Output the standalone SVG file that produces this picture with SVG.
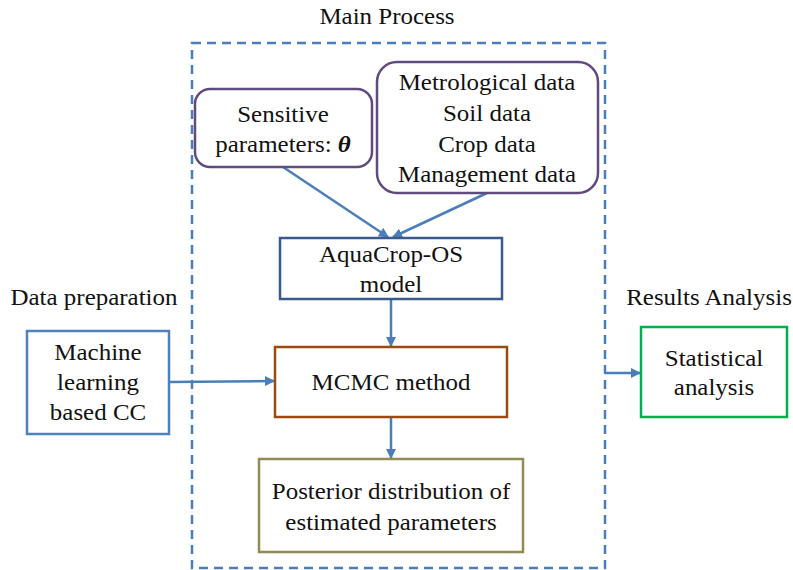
<svg xmlns="http://www.w3.org/2000/svg" width="793" height="570" viewBox="0 0 793 570">
<defs>
<marker id="ah" viewBox="0 0 10 10" refX="9" refY="5" markerWidth="4" markerHeight="4" orient="auto" markerUnits="strokeWidth">
<path d="M0,0 L10,5 L0,10 z" fill="#4a7ebb"/>
</marker>
</defs>
<style>
text{font-family:"Liberation Serif","Times New Roman",serif;font-size:22.5px;fill:#111;text-anchor:middle}
.box{fill:#fff;stroke-width:2.5}
.conn{stroke:#4a7ebb;stroke-width:2.5;fill:none;marker-end:url(#ah)}
</style>
<rect width="793" height="570" fill="#fff"/>
<g id="main-process">
<rect x="192" y="43" width="413" height="525" fill="none" stroke="#4a7ebb" stroke-width="2.5" stroke-dasharray="9,6"/>
<text transform="translate(387,24) scale(1.11,1)">Main Process</text>
</g>
<text transform="translate(94,305) scale(1.11,1)">Data preparation</text>
<text transform="translate(709,305) scale(1.11,1)">Results Analysis</text>
<g id="connectors">
<line class="conn" x1="283" y1="167" x2="388" y2="237"/>
<line class="conn" x1="487" y1="193" x2="393" y2="237"/>
<line class="conn" x1="391" y1="299" x2="391" y2="346"/>
<line class="conn" x1="391" y1="417" x2="391" y2="458"/>
<line class="conn" x1="169" y1="382" x2="274" y2="381"/>
<line class="conn" x1="605" y1="373" x2="640" y2="373"/>
</g>
<g id="sensitive">
<rect class="box" x="195" y="89" width="177" height="78" rx="15" stroke="#5f4b7f"/>
<text transform="translate(283,122) scale(1.11,1)">Sensitive</text>
<text transform="translate(283,152) scale(1.11,1)">parameters: <tspan font-weight="bold" font-style="italic">θ</tspan></text>
</g>
<g id="data">
<rect class="box" x="377" y="62" width="221" height="131" rx="20" stroke="#5f4b7f"/>
<text transform="translate(487,90) scale(1.11,1)">Metrological data</text>
<text transform="translate(487,121) scale(1.11,1)">Soil data</text>
<text transform="translate(487,152) scale(1.11,1)">Crop data</text>
<text transform="translate(487,182) scale(1.11,1)">Management data</text>
</g>
<g id="aquacrop">
<rect class="box" x="280" y="238" width="222" height="61" stroke="#3a5a8c"/>
<text transform="translate(391,262) scale(1.11,1)">AquaCrop-OS</text>
<text transform="translate(391,292) scale(1.11,1)">model</text>
</g>
<g id="mcmc">
<rect class="box" x="275" y="347" width="232" height="70" stroke="#9c4a10"/>
<text transform="translate(391,390) scale(1.11,1)">MCMC method</text>
</g>
<g id="posterior">
<rect class="box" x="259" y="459" width="264" height="93" stroke="#948a54"/>
<text transform="translate(391,499) scale(1.11,1)">Posterior distribution of</text>
<text transform="translate(391,530) scale(1.11,1)">estimated parameters</text>
</g>
<g id="ml">
<rect class="box" x="27" y="331" width="142" height="103" stroke="#4f81bd"/>
<text transform="translate(98,360) scale(1.11,1)">Machine</text>
<text transform="translate(98,390) scale(1.11,1)">learning</text>
<text transform="translate(98,420) scale(1.11,1)">based CC</text>
</g>
<g id="stat">
<rect class="box" x="641" y="327" width="146" height="90" stroke="#00b050"/>
<text transform="translate(714,366) scale(1.11,1)">Statistical</text>
<text transform="translate(714,395) scale(1.11,1)">analysis</text>
</g>
</svg>
